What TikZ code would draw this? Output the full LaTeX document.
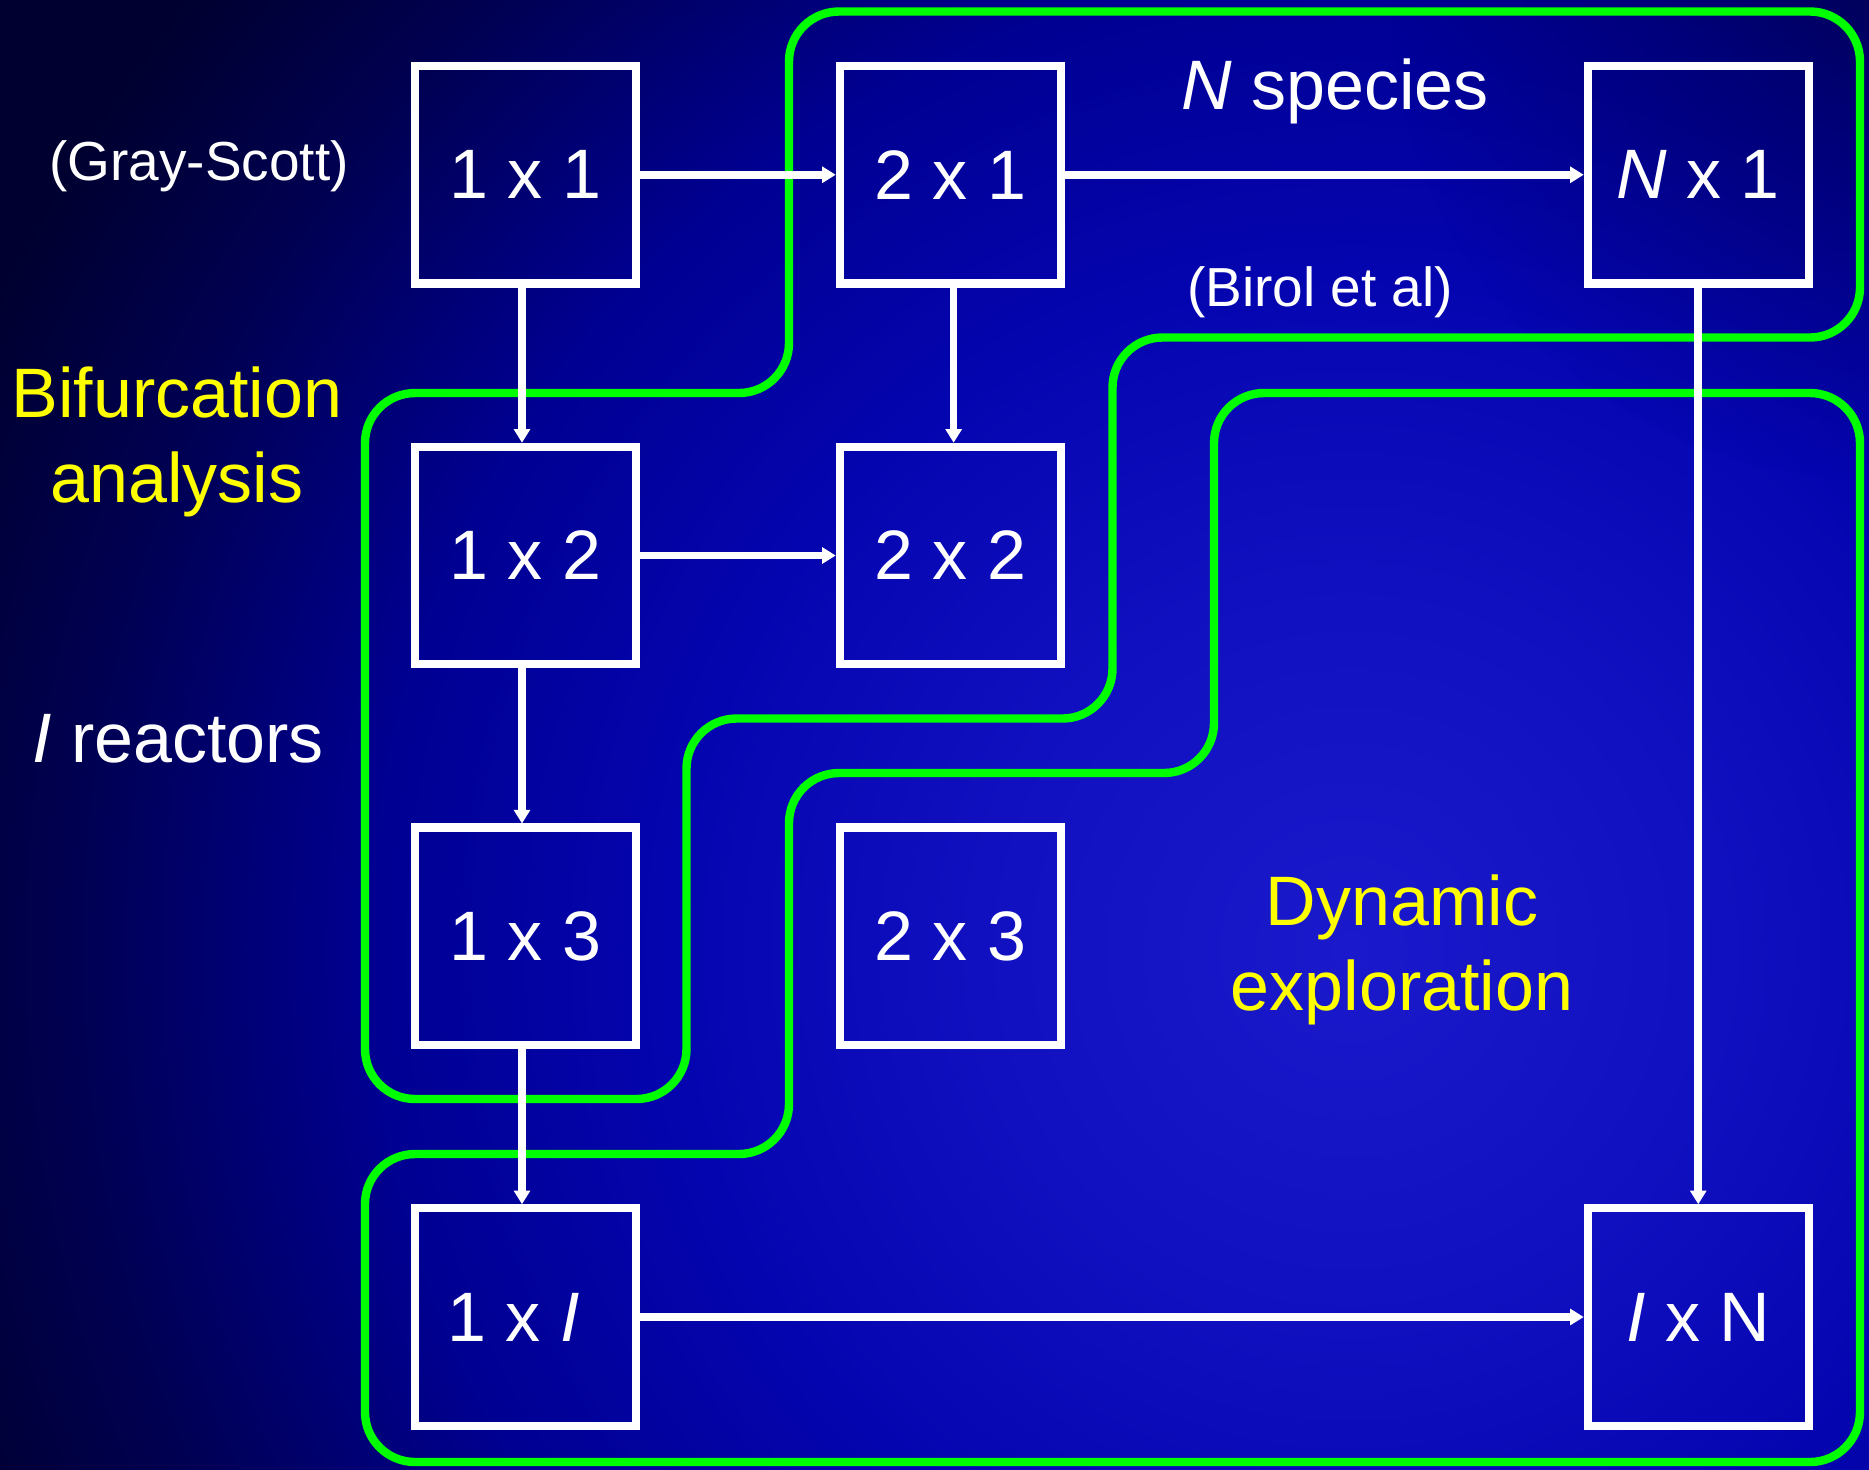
\documentclass[tikz,border=0pt]{standalone}
\usepackage{fontspec}
\setmainfont{Liberation Sans}
\usetikzlibrary{arrows.meta,fadings}
\definecolor{gGreen}{HTML}{00FF00}
\definecolor{yYellow}{HTML}{FFFF00}
\definecolor{bgOut}{HTML}{000030}
\definecolor{glowA}{HTML}{1A1ACC}
\definecolor{glowB}{HTML}{1010C0}
\definecolor{glowC}{HTML}{0505B0}
\definecolor{glowD}{HTML}{000092}
\definecolor{glowE}{HTML}{000052}
\definecolor{glowF}{HTML}{000030}
\pgfdeclareradialshading{bgglow}{\pgfpoint{0bp}{0bp}}{color(0bp)=(glowA); color(6.25bp)=(glowB); color(11.25bp)=(glowC); color(16.25bp)=(glowD); color(21.25bp)=(glowE); color(25bp)=(glowF); color(50bp)=(glowF)}
\tikzfading[name=softdot, inner color=transparent!0, outer color=transparent!100]
\newcommand\bigfnt{\fontsize{35pt}{42.5pt}\selectfont}
\newcommand\smallfnt{\fontsize{27.5pt}{33pt}\selectfont}
\tikzset{
  cell/.style={draw=white, line width=4.2pt, minimum width=110.5pt, minimum height=108.75pt, inner sep=0pt, text=white, font=\bigfnt},
  arr/.style={draw=white, line width=3.8pt, -{Triangle[length=6.7pt,width=8.4pt,line width=0pt]}},
  loop/.style={draw=gGreen, line width=4.2pt, rounded corners=25pt},
  wlbl/.style={text=white, inner sep=0pt, anchor=base},
  ylbl/.style={text=yYellow, inner sep=0pt, align=center, font=\bigfnt}
}
\begin{document}
\begin{tikzpicture}[x=0.5pt,y=-0.5pt]
\useasboundingbox (0,0) rectangle (1869,1469);
\fill[bgOut] (0,0) rectangle (1869,1469);
\begin{scope}
\clip (0,0) rectangle (1869,1469);
\shade[shading=bgglow] (-150,-550) rectangle (2850,2450);
\fill[bgOut, path fading=softdot, fill opacity=0.4] (1869,0) circle (480);
\end{scope}

% green outlines
\draw[loop] (1300,11.5) -- (1860,11.5) -- (1860,337.5) -- (1112.5,337.5) -- (1112.5,718.5) -- (686.5,718.5) -- (686.5,1099) -- (365,1099) -- (365,393) -- (789,393) -- (789,11.5) -- cycle;
\draw[loop] (1500,393) -- (1860,393) -- (1860,1462) -- (365,1462) -- (365,1154) -- (789,1154) -- (789,773) -- (1214,773) -- (1214,393) -- cycle;

% boxes
\node[cell] (n11) at (525.5,174.75) {1 x 1};
\node[cell] (n21) at (950.25,174.75) {2 x 1};
\node[cell] (nN1) at (1698.25,174.75) {\textit{N} x 1};
\node[cell] (n12) at (525.5,555.5) {1 x 2};
\node[cell] (n22) at (950.25,555.5) {2 x 2};
\node[cell] (n13) at (525.5,936.25) {1 x 3};
\node[cell] (n23) at (950.25,936.25) {2 x 3};
\node[cell] (n1I) at (525.5,1317) {1 x \textit{I}\hspace*{12pt}};
\node[cell] (nIN) at (1698.25,1317) {\textit{I} x N};

% arrows
\draw[arr] (n11.east) -- (n21.west);
\draw[arr] (n21.east) -- (nN1.west);
\draw[arr] ([xshift=-1.75pt]n11.south) -- ([xshift=-1.75pt]n12.north);
\draw[arr] ([xshift=1.7pt]n21.south) -- ([xshift=1.7pt]n22.north);
\draw[arr] (n12.east) -- (n22.west);
\draw[arr] ([xshift=-1.75pt]n12.south) -- ([xshift=-1.75pt]n13.north);
\draw[arr] ([xshift=-1.75pt]n13.south) -- ([xshift=-1.75pt]n1I.north);
\draw[arr] (nN1.south) -- (nIN.north);
\draw[arr] (n1I.east) -- (nIN.west);

% labels
\node[wlbl, font=\smallfnt] (gs) at (199,180) {(Gray-Scott)};
\node[wlbl, font=\bigfnt] (ns) at (1335,109.3) {\textit{N} species};
\node[wlbl, font=\smallfnt] (bir) at (1320,306) {(Birol et al)};
\node[wlbl, font=\bigfnt] (ir) at (178,762) {\textit{I} reactors};
\node[ylbl, anchor=base] (bif) at (177,502.4) {Bifurcation\\analysis};
\node[ylbl, anchor=base] (dyn) at (1402,1010) {Dynamic\\exploration};
\end{tikzpicture}
\end{document}
